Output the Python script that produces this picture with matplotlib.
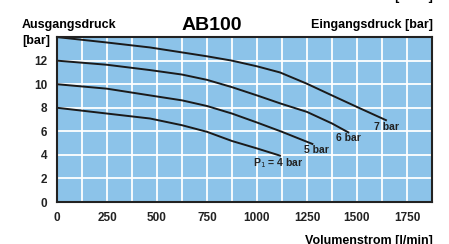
import matplotlib.pyplot as plt

plt.rcParams['font.family'] = ['Liberation Sans', 'DejaVu Sans']

# flow in l/min, outlet pressure in bar
flow_7 = [0, 250, 465, 625, 750, 875, 1000, 1115, 1250, 1375, 1500, 1645]
p_7 = [14.0, 13.54, 13.12, 12.7, 12.37, 12.0, 11.52, 11.0, 10.04, 9.05, 8.07, 6.95]

flow_6 = [0, 250, 465, 625, 750, 875, 1000, 1120, 1250, 1375, 1457]
p_6 = [12.0, 11.65, 11.2, 10.82, 10.37, 9.75, 9.05, 8.35, 7.65, 6.67, 5.91]

flow_5 = [0, 250, 465, 625, 750, 875, 1000, 1125, 1277]
p_5 = [10.0, 9.62, 9.05, 8.63, 8.15, 7.51, 6.75, 5.96, 4.93]

flow_4 = [0, 250, 465, 625, 750, 875, 1000, 1115]
p_4 = [8.0, 7.51, 7.09, 6.52, 5.96, 5.18, 4.55, 3.94]

curve_labels = ['7 bar', '6 bar', '5 bar', 'P$_1$ = 4 bar']
label_pos = [(1647, 6.33), (1455, 5.4), (1298, 4.42), (1107, 3.33)]

x_ticks = [0, 250, 500, 750, 1000, 1250, 1500, 1750]
y_ticks = [0, 2, 4, 6, 8, 10, 12]

fig = plt.figure(figsize=(4.49, 2.44), dpi=100)
ax = fig.add_axes([0.127, 0.172, 0.835, 0.676])
ax.set_facecolor('#8cc3e9')

ax.set_xlim(0, 1875)
ax.set_ylim(0, 14)
ax.set_xticks(x_ticks)
ax.set_xticks([i * 125 for i in range(1, 15, 2)], minor=True)
ax.set_yticks(y_ticks)
ax.set_xticklabels([str(t) for t in x_ticks])
ax.set_yticklabels([str(t) for t in y_ticks])
ax.grid(True, which='both', color='white', linewidth=1.3)
ax.set_axisbelow(True)
ax.tick_params(which='both', length=0, labelsize=8.5, pad=7)
for lab in ax.get_xticklabels() + ax.get_yticklabels():
    lab.set_fontweight('bold')
    lab.set_color('#222222')
for sp in ax.spines.values():
    sp.set_linewidth(1.5)
    sp.set_color('#222222')

for fx, py in [(flow_7, p_7), (flow_6, p_6), (flow_5, p_5), (flow_4, p_4)]:
    ax.plot(fx, py, color='#1a1a1a', linewidth=1.4, clip_on=False)

for txt, (lx, ly) in zip(curve_labels, label_pos):
    ax.text(lx, ly, txt, fontsize=7.5, fontweight='bold', ha='center', va='center', color='#222222')

fig.text(22 / 449, 1 - 25 / 244, 'Ausgangsdruck', fontsize=9, fontweight='bold', va='center', ha='left')
fig.text(22 / 449, 1 - 41 / 244, '[bar]', fontsize=9, fontweight='bold', va='center', ha='left')
fig.text(212 / 449, 1 - 25 / 244, 'AB100', fontsize=14, fontweight='bold', va='center', ha='center')
fig.text(433 / 449, 1 - 25 / 244, 'Eingangsdruck [bar]', fontsize=9, fontweight='bold', va='center', ha='right')
# partly cropped labels at the top and bottom edges, as in the source image
fig.text(433 / 449, 1 + 3 / 244, 'Volumenstrom [l/min]', fontsize=9, fontweight='bold', va='center', ha='right')
fig.text(433 / 449, 1 - 241 / 244, 'Volumenstrom [l/min]', fontsize=9, fontweight='bold', va='center', ha='right')

fig.savefig('out.png', dpi=100)
